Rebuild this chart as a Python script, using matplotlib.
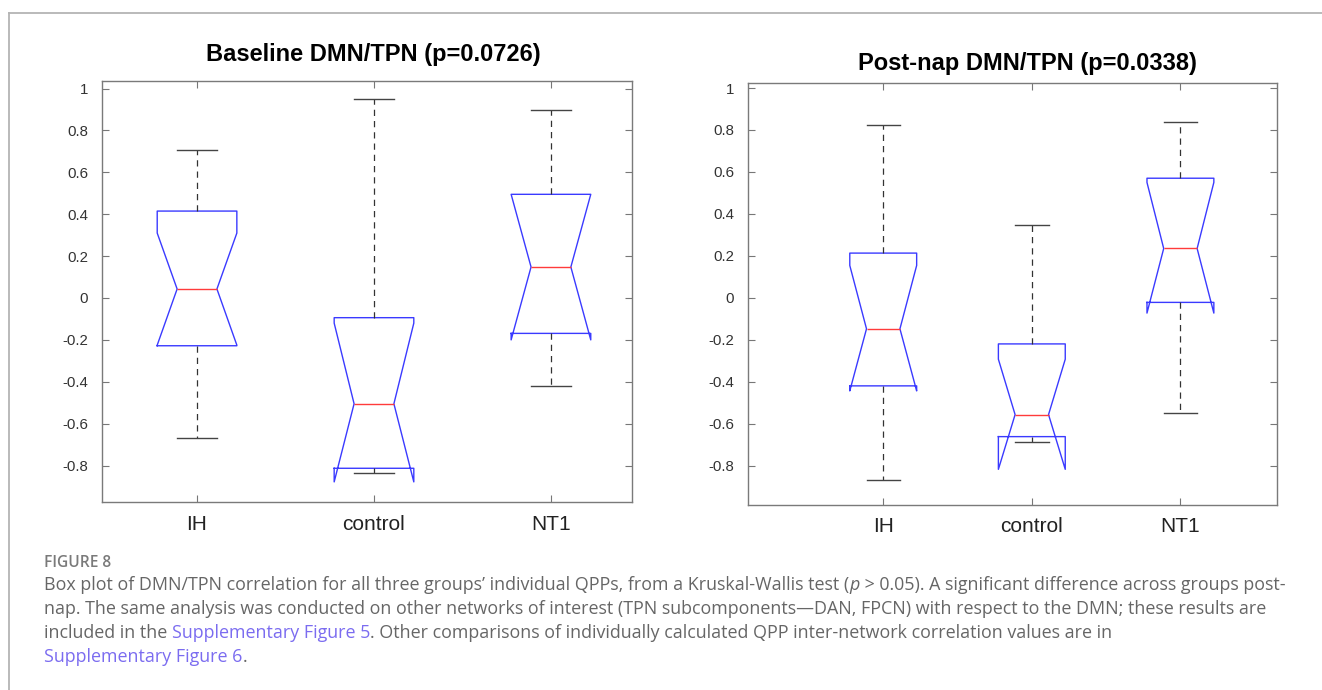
import matplotlib
matplotlib.use("Agg")
import matplotlib.pyplot as plt
from matplotlib.lines import Line2D

W, H = 1322, 690

groups = ["IH", "control", "NT1"]

# baseline panel
base_whislo = [-0.670, -0.836, -0.420]
base_q1 = [-0.228, -0.813, -0.169]
base_med = [0.043, -0.505, 0.148]
base_q3 = [0.415, -0.094, 0.495]
base_whishi = [0.705, 0.950, 0.897]
base_cilo = [-0.225, -0.878, -0.200]
base_cihi = [0.310, -0.120, 0.495]

# post-nap panel
post_whislo = [-0.869, -0.686, -0.547]
post_q1 = [-0.420, -0.662, -0.022]
post_med = [-0.148, -0.557, 0.235]
post_q3 = [0.213, -0.220, 0.570]
post_whishi = [0.826, 0.347, 0.837]
post_cilo = [-0.444, -0.818, -0.073]
post_cihi = [0.154, -0.293, 0.550]

ytick_values = [-0.8, -0.6, -0.4, -0.2, 0, 0.2, 0.4, 0.6, 0.8, 1]
ytick_labels = ["-0.8", "-0.6", "-0.4", "-0.2", "0", "0.2", "0.4", "0.6", "0.8", "1"]

CHART_FONT = ["Liberation Sans", "DejaVu Sans"]
CAPTION_FONT = ["Open Sans", "DejaVu Sans"]
TEXT_GRAY = "#666666"
LINK = "#7b6cf0"
CAP_SIZE = 12.9


def make_stats(whislo, q1, med, q3, whishi, cilo, cihi):
    rows = []
    for i, name in enumerate(groups):
        rows.append({
            "label": name, "whislo": whislo[i], "q1": q1[i], "med": med[i],
            "q3": q3[i], "whishi": whishi[i], "cilo": cilo[i], "cihi": cihi[i],
            "fliers": [],
        })
    return rows


def draw_panel(ax, stats, title, xlim, ylim, title_xy):
    ax.bxp(
        stats,
        positions=[1, 2, 3],
        widths=0.45,
        shownotches=True,
        showfliers=False,
        boxprops=dict(color="#3a3aff", linewidth=1.0),
        medianprops=dict(color="#ff3b3b", linewidth=1.0),
        whiskerprops=dict(color="#333333", linewidth=0.9, linestyle=(0, (5, 4))),
        capprops=dict(color="#444444", linewidth=1.0),
    )
    ax.set_xlim(*xlim)
    ax.set_ylim(*ylim)
    ax.set_yticks(ytick_values)
    ax.set_yticklabels(ytick_labels, fontsize=10.8, color="#333333", family=CHART_FONT)
    ax.set_xticks([1, 2, 3])
    ax.set_xticklabels(groups, fontsize=15, color="#222222", family=CHART_FONT)
    ax.tick_params(axis="both", direction="in", top=True, right=True,
                   length=5, width=0.8, color="#777777")
    ax.tick_params(axis="y", pad=10)
    ax.tick_params(axis="x", pad=9)
    for sp in ax.spines.values():
        sp.set_color("#7a7a7a")
        sp.set_linewidth(1.0)
    ax.text(title_xy[0], title_xy[1], title, transform=ax.transAxes,
            ha="center", va="center", fontsize=17, fontweight="bold",
            family=CHART_FONT, color="black")


fig = plt.figure(figsize=(W / 100, H / 100), dpi=100)

ax1 = fig.add_axes([102 / W, 1 - 502 / H, 530 / W, 421 / H])
draw_panel(ax1, make_stats(base_whislo, base_q1, base_med, base_q3, base_whishi, base_cilo, base_cihi),
           "Baseline DMN/TPN (p=0.0726)", (0.463, 3.458), (-0.974, 1.036), (0.512, 1.062))

ax2 = fig.add_axes([748 / W, 1 - 505 / H, 529 / W, 422 / H])
draw_panel(ax2, make_stats(post_whislo, post_q1, post_med, post_q3, post_whishi, post_cilo, post_cihi),
           "Post-nap DMN/TPN (p=0.0338)", (0.09, 3.65), (-0.988, 1.024), (0.5286, 1.047))

# outer frame of the figure panel
fig.add_artist(Line2D([9 / W, 9 / W], [0, 1 - 13 / H], transform=fig.transFigure,
                      color="#b4b4b4", linewidth=1.3))
fig.add_artist(Line2D([9 / W, 1], [1 - 13 / H, 1 - 13 / H], transform=fig.transFigure,
                      color="#b4b4b4", linewidth=1.3))

# caption
fig.text(44 / W, 1 - 567 / H, "FIGURE 8", fontsize=11.2, fontweight="semibold",
         color="#7a7a7a", family=CAPTION_FONT, va="baseline")


def caption_line(pieces, baseline):
    # pieces are placed one after another on a shared baseline
    prev = None
    for text, color, style in pieces:
        if prev is None:
            prev = fig.text(44 / W, 1 - baseline / H, text, fontsize=CAP_SIZE, color=color,
                            style=style, family=CAPTION_FONT, va="baseline")
        else:
            prev = ax1.annotate(
                text, xy=(1, H - baseline), xycoords=(prev, "figure pixels"),
                fontsize=CAP_SIZE, color=color, style=style, family=CAPTION_FONT,
                va="baseline", ha="left", annotation_clip=False)


caption_line([
    ("Box plot of DMN/TPN correlation for all three groups\u2019 individual QPPs, from a Kruskal-Wallis test (",
     TEXT_GRAY, "normal"),
    ("p", TEXT_GRAY, "italic"),
    (" > 0.05). A significant difference across groups post-", TEXT_GRAY, "normal"),
], 590)
caption_line([
    ("nap. The same analysis was conducted on other networks of interest (TPN subcomponents\u2014DAN, FPCN) "
     "with respect to the DMN; these results are", TEXT_GRAY, "normal"),
], 614)
caption_line([
    ("included in the ", TEXT_GRAY, "normal"),
    ("Supplementary Figure 5", LINK, "normal"),
    (". Other comparisons of individually calculated QPP inter-network correlation values are in",
     TEXT_GRAY, "normal"),
], 638)
caption_line([
    ("Supplementary Figure 6", LINK, "normal"),
    (".", TEXT_GRAY, "normal"),
], 662)

fig.savefig("out.png", dpi=100)
